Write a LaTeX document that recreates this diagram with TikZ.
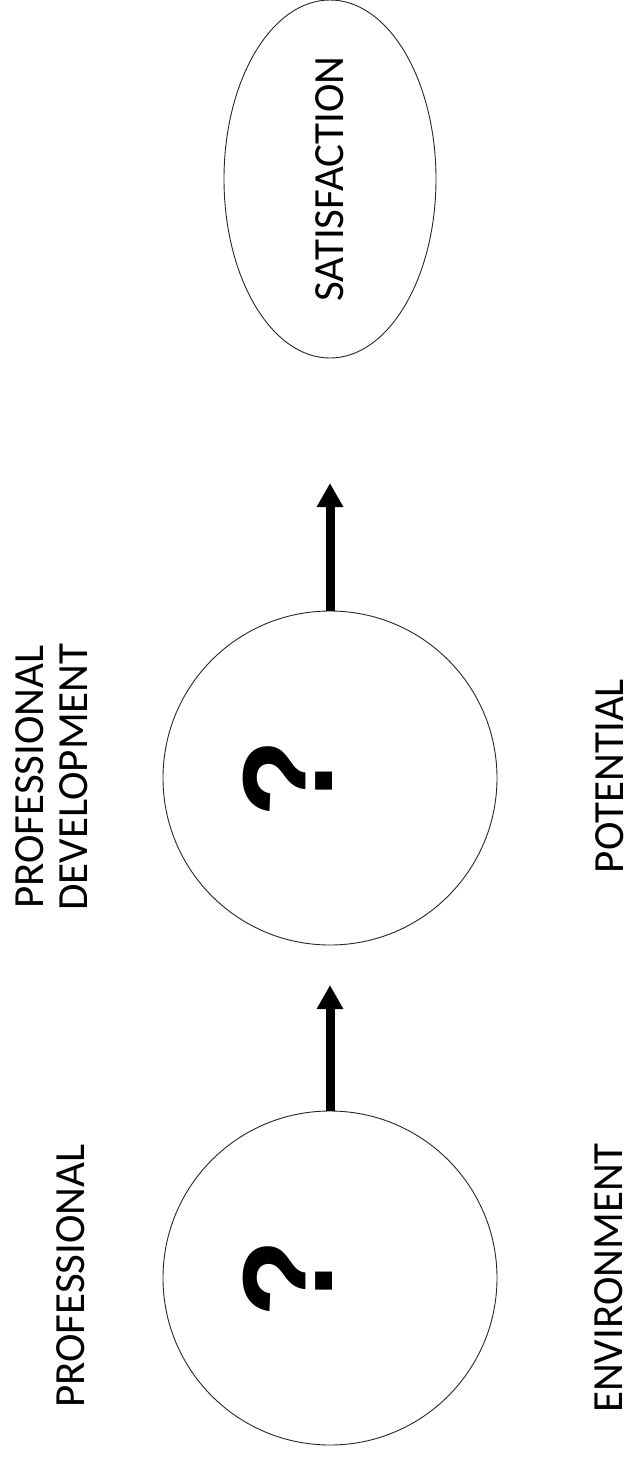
\documentclass[tikz,border=0pt]{standalone}
\usepackage{fontspec}
\setmainfont{Carlito}
\newfontfamily\qfont{Liberation Sans}
\usetikzlibrary{arrows.meta,shapes.geometric}
\begin{document}
\begin{tikzpicture}[x=1pt,y=-1pt,
  lbl/.style={rotate=90, inner sep=0pt, font=\fontsize{43}{44}\selectfont, align=center},
  qcircle/.style={circle, draw=black!85, line width=0.9pt, minimum size=334pt, inner sep=0pt},
  qmark/.style={rotate=90, anchor=base, inner sep=0pt, font=\qfont\bfseries\fontsize{128}{128}\selectfont},
  arr/.style={line width=9pt, -{Triangle[width=25pt,length=24pt]}},
  goal/.style={ellipse, draw=black!85, line width=0.9pt, rotate=90, minimum width=358pt, minimum height=212pt, inner sep=0pt, font=\fontsize{43}{44}\selectfont}]
\useasboundingbox (0,0) rectangle (633,1459);
% circles
\node[qcircle] (c1) at (330,1278) {};
\node[qcircle] (c2) at (330,778) {};
\node[qmark] (q1) at (332,1278) {?};
\node[qmark] (q2) at (332,778) {?};
% goal
\node[goal] (sat) at (330,179) {SATISFACTION};
% arrows
\coordinate (t1) at (330,985);
\coordinate (t2) at (330,483);
\draw[arr] (c1.north) -- (t1);
\draw[arr] (c2.north) -- (t2);
% labels
\node[lbl] (l1) at (71,1276) {PROFESSIONAL};
\node[lbl] (l2) at (609,1278) {ENVIRONMENT};
\node[lbl] (l3) at (52,777) {PROFESSIONAL\\DEVELOPMENT};
\node[lbl] (l4) at (610,776) {POTENTIAL};
\end{tikzpicture}
\end{document}
